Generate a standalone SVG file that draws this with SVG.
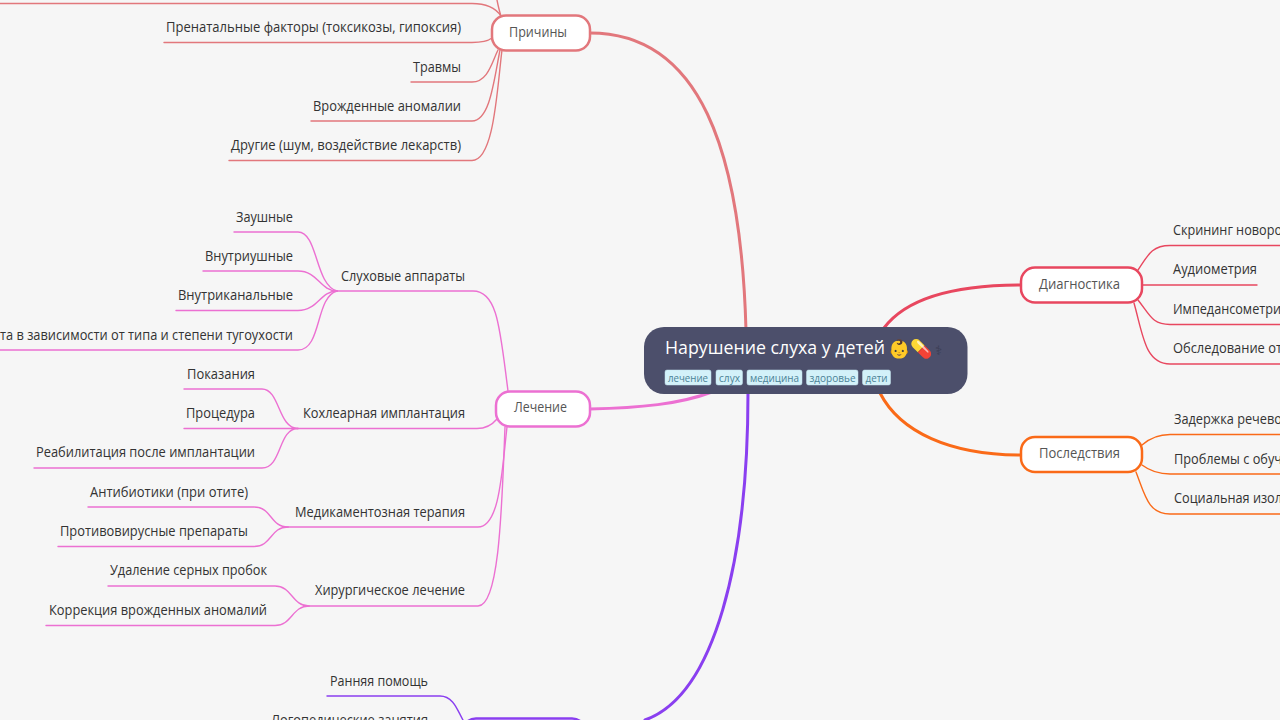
<svg xmlns="http://www.w3.org/2000/svg" width="1280" height="720" viewBox="0 0 1280 720">
<style>
text{font-family:"Open Sans","Noto Sans","Liberation Sans",sans-serif;font-size:14px;fill:#333}
.l{fill:#555}
.c{fill:none;stroke-linecap:round}
.r{stroke:#e2777c}.p{stroke:#ec70d2}.v{stroke:#8a3ff0}.d{stroke:#e8475f}.o{stroke:#fa6a18}
.m{stroke-width:3}.s{stroke-width:1.4}
.n{fill:#fff;stroke-width:2.5}
.g{fill:#d3f1f9;stroke:#c3e3ec;stroke-width:.5}
.t{font-size:11px;fill:#4a8296}
</style>
<rect width="1280" height="720" fill="#f6f6f6"/>
<g id="connectors" class="c">
<path class="r m" d="M746 330C741 150 700 33 590 33"/>
<path class="p m" d="M712 392C680 404 640 408 590 409"/>
<path class="v m" d="M748 392C748 560 715 695 645 720"/>
<path class="d m" d="M884 328C905 300 950 285 1021 285"/>
<path class="o m" d="M880 393C900 432 950 455 1021 455"/>
<g class="r s">
<path d="M0 3.500H472C488 3.500 497 10 501 16"/>
<path d="M497 0C498 5 499 10 501 16"/>
<path d="M164 42.500H472C482 42.500 488 41 492 38"/>
<path d="M411 82H472C488 82 492 62 498 50"/>
<path d="M311 121H472C490 121 494 80 500 50"/>
<path d="M229 160.500H472C494 160.500 497 90 502 50"/>
</g>
<g class="p s">
<path d="M337 291H473C498 291 500 330 508 391"/>
<path d="M298 428.500H477C486 428.500 492 425 497 419"/>
<path d="M288 527H478C500 527 502 470 507 427"/>
<path d="M309 606H478C500 606 502 500 505 427"/>
<path d="M234 232H298C318 232 315 285 337 291"/>
<path d="M203 271H298C318 271 320 291 337 291"/>
<path d="M176 310.500H298C318 310.500 320 291 337 291"/>
<path d="M0 350H298C322 350 315 297 337 291"/>
<path d="M184 389H262C280 389 278 428.500 298 428.500"/>
<path d="M184 428.500H298"/>
<path d="M34 468H262C282 468 278 428.500 298 428.500"/>
<path d="M88 507H254C272 507 270 527 288 527"/>
<path d="M58 546.500H254C272 546.500 270 527 288 527"/>
<path d="M108 586H275C292 586 292 606 309 606"/>
<path d="M46 625.500H275C292 625.500 292 606 309 606"/>
</g>
<path class="v s" d="M327 696H440C454 696 458 712 463 720"/>
<g class="d s">
<path d="M1138 270C1148 255 1152 245.500 1170 245.500H1280"/>
<path d="M1143 285H1257"/>
<path d="M1138 300C1150 315 1152 324.500 1170 324.500H1280"/>
<path d="M1134 303C1143 335 1145 364 1170 364H1280"/>
</g>
<g class="o s">
<path d="M1142 445C1150 438 1158 434.500 1170 434.500H1280"/>
<path d="M1142 465C1150 471 1158 474 1170 474H1280"/>
<path d="M1136 472C1145 495 1148 514 1170 514H1280"/>
</g>
</g>
<g id="root">
<rect x="644" y="327" width="323.500" height="67" rx="20" fill="#4c4f6b"/>
<text x="665" y="354" style="font-size:18.500px;fill:#fff" textLength="220" lengthAdjust="spacingAndGlyphs">Нарушение слуха у детей</text>
<text x="888" y="355" style="font-size:18px;fill:#fff">👶💊</text>
<text x="934.500" y="355" style="font-size:13px;fill:#3a3c52">⚕</text>
<rect class="g" x="665" y="370" width="46" height="15" rx="2"/><text class="t" x="668" y="382" textLength="40" lengthAdjust="spacingAndGlyphs">лечение</text>
<rect class="g" x="716" y="370" width="26.500" height="15" rx="2"/><text class="t" x="719" y="382" textLength="21" lengthAdjust="spacingAndGlyphs">слух</text>
<rect class="g" x="747" y="370" width="55" height="15" rx="2"/><text class="t" x="750" y="382" textLength="49" lengthAdjust="spacingAndGlyphs">медицина</text>
<rect class="g" x="806.500" y="370" width="51.500" height="15" rx="2"/><text class="t" x="809.500" y="382" textLength="46" lengthAdjust="spacingAndGlyphs">здоровье</text>
<rect class="g" x="862.500" y="370" width="28" height="15" rx="2"/><text class="t" x="865.500" y="382" textLength="22" lengthAdjust="spacingAndGlyphs">дети</text>
</g>
<g id="prichiny">
<rect class="n r" x="492" y="15.500" width="98" height="35" rx="14"/>
<text class="l" x="509" y="37" textLength="58" lengthAdjust="spacingAndGlyphs">Причины</text>
<text x="166" y="32" textLength="295" lengthAdjust="spacingAndGlyphs">Пренатальные факторы (токсикозы, гипоксия)</text>
<text x="413" y="72" textLength="48" lengthAdjust="spacingAndGlyphs">Травмы</text>
<text x="313" y="111" textLength="148" lengthAdjust="spacingAndGlyphs">Врожденные аномалии</text>
<text x="231" y="150" textLength="230" lengthAdjust="spacingAndGlyphs">Другие (шум, воздействие лекарств)</text>
</g>
<g id="lechenie">
<rect class="n p" x="496" y="391.500" width="94" height="35" rx="14"/>
<text class="l" x="514" y="412" textLength="53" lengthAdjust="spacingAndGlyphs">Лечение</text>
<text x="341" y="281" textLength="124" lengthAdjust="spacingAndGlyphs">Слуховые аппараты</text>
<text x="236" y="222" textLength="57" lengthAdjust="spacingAndGlyphs">Заушные</text>
<text x="205" y="261" textLength="88" lengthAdjust="spacingAndGlyphs">Внутриушные</text>
<text x="178" y="300" textLength="115" lengthAdjust="spacingAndGlyphs">Внутриканальные</text>
<text x="0" y="340" textLength="293" lengthAdjust="spacingAndGlyphs">та в зависимости от типа и степени тугоухости</text>
<text x="303" y="418" textLength="162" lengthAdjust="spacingAndGlyphs">Кохлеарная имплантация</text>
<text x="187" y="379" textLength="68" lengthAdjust="spacingAndGlyphs">Показания</text>
<text x="186" y="418" textLength="69" lengthAdjust="spacingAndGlyphs">Процедура</text>
<text x="36" y="457" textLength="219" lengthAdjust="spacingAndGlyphs">Реабилитация после имплантации</text>
<text x="295" y="517" textLength="170" lengthAdjust="spacingAndGlyphs">Медикаментозная терапия</text>
<text x="90" y="497" textLength="158" lengthAdjust="spacingAndGlyphs">Антибиотики (при отите)</text>
<text x="60" y="536" textLength="188" lengthAdjust="spacingAndGlyphs">Противовирусные препараты</text>
<text x="315" y="595" textLength="150" lengthAdjust="spacingAndGlyphs">Хирургическое лечение</text>
<text x="110" y="575" textLength="157" lengthAdjust="spacingAndGlyphs">Удаление серных пробок</text>
<text x="49" y="615" textLength="218" lengthAdjust="spacingAndGlyphs">Коррекция врожденных аномалий</text>
</g>
<g id="support">
<rect class="n v" x="462" y="718.500" width="124" height="35" rx="14"/>
<text x="330" y="686" textLength="98" lengthAdjust="spacingAndGlyphs">Ранняя помощь</text>
<text x="271" y="725" textLength="157" lengthAdjust="spacingAndGlyphs">Логопедические занятия</text>
</g>
<g id="diagnostika">
<rect class="n d" x="1021" y="267.500" width="121" height="35" rx="14"/>
<text class="l" x="1039" y="289" textLength="81" lengthAdjust="spacingAndGlyphs">Диагностика</text>
<text x="1173" y="235" textLength="109" lengthAdjust="spacingAndGlyphs">Скрининг новоро</text>
<text x="1173" y="274" textLength="84" lengthAdjust="spacingAndGlyphs">Аудиометрия</text>
<text x="1173" y="314" textLength="108" lengthAdjust="spacingAndGlyphs">Импедансометри</text>
<text x="1173" y="353" textLength="109" lengthAdjust="spacingAndGlyphs">Обследование от</text>
</g>
<g id="posledstviya">
<rect class="n o" x="1021" y="437" width="121" height="35" rx="14"/>
<text class="l" x="1039" y="458" textLength="81" lengthAdjust="spacingAndGlyphs">Последствия</text>
<text x="1174" y="424" textLength="108" lengthAdjust="spacingAndGlyphs">Задержка речево</text>
<text x="1174" y="464" textLength="108" lengthAdjust="spacingAndGlyphs">Проблемы с обуч</text>
<text x="1174" y="503" textLength="108" lengthAdjust="spacingAndGlyphs">Социальная изол</text>
</g>
</svg>
